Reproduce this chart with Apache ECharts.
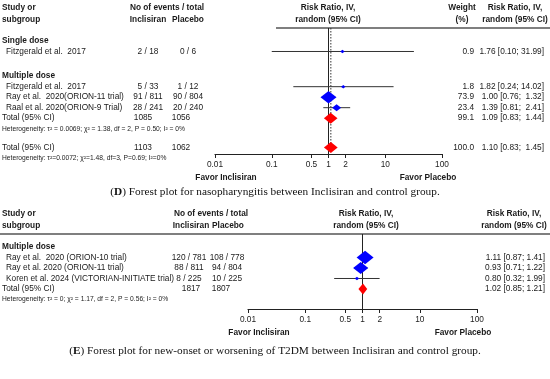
<!DOCTYPE html>
<html><head><meta charset="utf-8">
<script src="https://cdn.jsdelivr.net/npm/echarts@6/dist/echarts.min.js"></script>
<style>html,body{margin:0;padding:0;background:#fff}#c{width:550px;height:379px}</style>
</head><body><div id="c"></div>
<script>
// ---------- DATA: panel D (nasopharyngitis) ----------
const groupsD = ['Single dose', 'Multiple dose'];
const studiesD = ['Fitzgerald et al.  2017', 'Fitzgerald et al.  2017', 'Ray et al.  2020(ORION-11 trial)', 'Raal et al. 2020(ORION-9 Trial)'];
const evIncD = [2, 5, 91, 28];
const nIncD = [18, 33, 811, 241];
const evPlaD = [0, 1, 90, 20];
const nPlaD = [6, 12, 804, 240];
const weightD = [0.9, 1.8, 73.9, 23.4];
const rrD = [1.76, 1.82, 1.00, 1.39];
const loD = [0.10, 0.24, 0.76, 0.81];
const hiD = [31.99, 14.02, 1.32, 2.41];
const totIncD = [1085, 1103];
const totPlaD = [1056, 1062];
const totWeightD = [99.1, 100.0];
const totRrD = [1.09, 1.10];
const totLoD = [0.83, 0.83];
const totHiD = [1.44, 1.45];
const hetD = ['Heterogeneity: τ² = 0.0069; χ² = 1.38, df = 2, P = 0.50; I² = 0%',
              'Heterogeneity: τ²=0.0072; χ²=1.48, df=3, P=0.69; I²=0%'];
const captionD = ['D', 'Forest plot for nasopharyngitis between Inclisiran and control group.'];

// ---------- DATA: panel E (T2DM) ----------
const groupsE = ['Multiple dose'];
const studiesE = ['Ray et al.  2020 (ORION-10 trial)', 'Ray et al. 2020 (ORION-11 trial)', 'Koren et al. 2024 (VICTORIAN-INITIATE trial)'];
const evIncE = [120, 88, 8];
const nIncE = [781, 811, 225];
const evPlaE = [108, 94, 10];
const nPlaE = [778, 804, 225];
const weightE = [53.7, 42.6, 3.7]; // not printed
const rrE = [1.11, 0.93, 0.80];
const loE = [0.87, 0.71, 0.32];
const hiE = [1.41, 1.22, 1.99];
const totIncE = [1817];
const totPlaE = [1807];
const totRrE = [1.02];
const totLoE = [0.85];
const totHiE = [1.21];
const hetE = ['Heterogeneity: τ² = 0; χ² = 1.17, df = 2, P = 0.56; I² = 0%'];
const captionE = ['E', 'Forest plot for new-onset or worsening of T2DM between Inclisiran and control group.'];

// ---------- axis ticks ----------
const tickVals = [0.01, 0.1, 0.5, 1, 2, 10, 100];
const tickLabels = ['0.01', '0.1', '0.5', '1', '2', '10', '100'];
const favorLabels = ['Favor Inclisiran', 'Favor Placebo'];

// ---------- layout: [kind, index, row slot] ----------
const rowsD = [['g',0,0],['s',0,1],['g',1,3.35],['s',1,4.35],['s',2,5.35],['s',3,6.35],['t',0,7.35],['h',0,8.35],['t',1,10.15],['h',1,11.15]];
const rowsE = [['g',0,0],['s',0,1],['s',1,2],['s',2,3],['t',0,4],['h',0,5]];

const SANS = '"Liberation Sans", Arial, sans-serif';
const SERIF = '"Liberation Serif", "Times New Roman", serif';
const TXT = '#1a1a1a';
const BLUE = '#0000ff', RED = '#ff0000';
const lg = Math.log10;

const panels = [
  { rows: rowsD, groups: groupsD, studies: studiesD, evI: evIncD, nI: nIncD, evP: evPlaD, nP: nPlaD,
    w: weightD, rr: rrD, lo: loD, hi: hiD, tI: totIncD, tP: totPlaD, tW: totWeightD, trr: totRrD, tlo: totLoD, thi: totHiD,
    het: hetD, caption: captionD, dotted: totRrD[1], padCI: true,
    grid: { left: 215, width: 227, top: 28, height: 126 }, yMin: -1.238, yMax: 10.762, maxMark: 16,
    col: { incX: 148, plaX: 188, tIncX: 143, tPlaX: 181, headEvX: 167, headIncX: 148, headPlaX: 188, rrHeadX: 328, wX: 474, wHeadX: 462, ciRight: 544, ciHeadX: 515 },
    lineX1: 276, capY: 192 },
  { rows: rowsE, groups: groupsE, studies: studiesE, evI: evIncE, nI: nIncE, evP: evPlaE, nP: nPlaE,
    w: weightE, rr: rrE, lo: loE, hi: hiE, tI: totIncE, tP: totPlaE, tW: null, trr: totRrE, tlo: totLoE, thi: totHiE,
    het: hetE, caption: captionE, dotted: null, padCI: false,
    grid: { left: 248, width: 229, top: 234, height: 75 }, yMin: -1.238, yMax: 5.905, maxMark: 17,
    col: { incX: 189, plaX: 227, tIncX: 191, tPlaX: 221, headEvX: 211, headIncX: 191, headPlaX: 228, rrHeadX: 366, wX: null, wHeadX: null, ciRight: 545, ciHeadX: 514 },
    lineX1: 0, capY: 351 }
];

function mkX(gi) {
  return { type: 'value', gridIndex: gi, min: -2, max: 2, splitLine: { show: false },
    axisLine: { show: true, onZero: false, lineStyle: { color: '#222', width: 1.2 } },
    axisTick: { show: true, customValues: tickVals.map(lg), length: 4, lineStyle: { color: '#222', width: 1 } },
    axisLabel: { show: true, customValues: tickVals.map(lg), margin: 7, fontSize: 8.3, fontFamily: SANS, color: '#222',
      formatter: v => { let k = 0, b = 1e9; tickVals.forEach((t, i) => { const d = Math.abs(lg(t) - v); if (d < b) { b = d; k = i; } }); return tickLabels[k]; } } };
}
function mkY(gi, min, max) {
  return { type: 'value', gridIndex: gi, inverse: true, min, max, show: false, splitLine: { show: false } };
}

function vline(gi, x, dashed) {
  return { type: 'custom', xAxisIndex: gi, yAxisIndex: gi, data: [[x, 0]], encode: { x: 0, y: 1 }, z: 1,
    renderItem: (p, api) => { const c = api.coord([api.value(0), 0]); const cs = p.coordSys;
      return { type: 'line', shape: { x1: c[0], y1: cs.y, x2: c[0], y2: cs.y + (dashed ? cs.height - 4 : cs.height) },
        style: { stroke: dashed ? '#333' : '#222', lineWidth: 1, lineDash: dashed ? [1.5, 1.5] : null } }; } };
}

const series = [];
panels.forEach((P, gi) => {
  const ci = [], pts = [], tots = [];
  P.rows.forEach(r => {
    const row = r[2];
    if (r[0] === 's') { const i = r[1]; ci.push([lg(P.lo[i]), lg(P.hi[i]), row]); pts.push([lg(P.rr[i]), row, P.w[i]]); }
    if (r[0] === 't') { const i = r[1]; tots.push([lg(P.tlo[i]), lg(P.thi[i]), lg(P.trr[i]), row]); }
  });
  const wmax = Math.max(...P.w);
  series.push(vline(gi, 0, false));
  if (P.dotted) series.push(vline(gi, lg(P.dotted), true));
  series.push({ type: 'custom', xAxisIndex: gi, yAxisIndex: gi, data: ci, encode: { x: [0, 1], y: 2 }, z: 2,
    renderItem: (p, api) => { const a = api.coord([api.value(0), api.value(2)]); const b = api.coord([api.value(1), api.value(2)]);
      return { type: 'line', shape: { x1: a[0], y1: a[1], x2: b[0], y2: b[1] }, style: { stroke: '#333', lineWidth: 1 } }; } });
  series.push({ type: 'custom', xAxisIndex: gi, yAxisIndex: gi, data: pts, encode: { x: 0, y: 1 }, z: 3,
    renderItem: (p, api) => { const c = api.coord([api.value(0), api.value(1)]);
      const s = Math.max(4.5, P.maxMark * Math.sqrt(api.value(2) / wmax)); const h = s * 0.78;
      return { type: 'polygon', shape: { points: [[c[0], c[1] - h / 2], [c[0] + s / 2, c[1]], [c[0], c[1] + h / 2], [c[0] - s / 2, c[1]]] }, style: { fill: BLUE } }; } });
  series.push({ type: 'custom', xAxisIndex: gi, yAxisIndex: gi, data: tots, encode: { x: [0, 1, 2], y: 3 }, z: 3,
    renderItem: (p, api) => { const l = api.coord([api.value(0), api.value(3)]); const r = api.coord([api.value(1), api.value(3)]); const c = api.coord([api.value(2), api.value(3)]);
      const h = 11; return { type: 'polygon', shape: { points: [[l[0], c[1]], [c[0], c[1] - h / 2], [r[0], c[1]], [c[0], c[1] + h / 2]] }, style: { fill: RED } }; } });
});

const chart = echarts.init(document.getElementById('c'), null, { renderer: 'canvas' });
chart.setOption({
  animation: false, backgroundColor: '#fff',
  grid: panels.map(P => Object.assign({}, P.grid)),
  xAxis: panels.map((P, gi) => mkX(gi)),
  yAxis: panels.map((P, gi) => mkY(gi, P.yMin, P.yMax)),
  series
});

function T(x, y, text, o) {
  o = o || {};
  return { type: 'text', x, y, silent: true, z: 10,
    style: { text, fill: o.fill || TXT, fontSize: o.size || 8.3, fontFamily: o.family || SANS, fontWeight: o.bold ? 'bold' : 'normal',
      align: o.align || 'left', textAlign: o.align || 'left', verticalAlign: 'middle', textVerticalAlign: 'middle', rich: o.rich } };
}
function fmtCI(rr, lo, hi, pad) {
  const h = hi.toFixed(2);
  return rr.toFixed(2) + ' [' + lo.toFixed(2) + '; ' + (pad && hi < 10 ? ' ' : '') + h + ']';
}

const gfx = [];
panels.forEach((P, gi) => {
  const rowY = row => chart.convertToPixel({ gridIndex: gi }, [0, row])[1];
  const xPix = v => chart.convertToPixel({ gridIndex: gi }, [lg(v), 0])[0];
  const top = P.grid.top, bottom = P.grid.top + P.grid.height;
  const h1 = top - 20.5, h2 = top - 8.5;
  const C = P.col;
  gfx.push(T(2, h1, 'Study or', { bold: true }), T(2, h2, 'subgroup', { bold: true }));
  gfx.push(T(C.headEvX, h1, 'No of events / total', { bold: true, align: 'center' }));
  gfx.push(T(C.headIncX, h2, 'Inclisiran', { bold: true, align: 'center' }), T(C.headPlaX, h2, 'Placebo', { bold: true, align: 'center' }));
  gfx.push(T(C.rrHeadX, h1, 'Risk Ratio, IV,', { bold: true, align: 'center' }), T(C.rrHeadX, h2, 'random (95% CI)', { bold: true, align: 'center' }));
  if (C.wHeadX) gfx.push(T(C.wHeadX, h1, 'Weight', { bold: true, align: 'center' }), T(C.wHeadX, h2, '(%)', { bold: true, align: 'center' }));
  gfx.push(T(C.ciHeadX, h1, 'Risk Ratio, IV,', { bold: true, align: 'center' }), T(C.ciHeadX, h2, 'random (95% CI)', { bold: true, align: 'center' }));
  gfx.push({ type: 'line', silent: true, shape: { x1: P.lineX1, y1: top, x2: 550, y2: top }, style: { stroke: '#555', lineWidth: 1.5 } });
  P.rows.forEach(r => {
    const y = rowY(r[2]), i = r[1];
    if (r[0] === 'g') gfx.push(T(2, y, P.groups[i], { bold: true }));
    if (r[0] === 's') {
      gfx.push(T(6, y, P.studies[i]));
      gfx.push(T(C.incX, y, P.evI[i] + ' / ' + P.nI[i], { align: 'center' }), T(C.plaX, y, P.evP[i] + ' / ' + P.nP[i], { align: 'center' }));
      if (C.wX) gfx.push(T(C.wX, y, P.w[i].toFixed(1), { align: 'right' }));
      gfx.push(T(C.ciRight, y, fmtCI(P.rr[i], P.lo[i], P.hi[i], P.padCI), { align: 'right' }));
    }
    if (r[0] === 't') {
      gfx.push(T(2, y, 'Total (95% CI)'));
      gfx.push(T(C.tIncX, y, String(P.tI[i]), { align: 'center' }), T(C.tPlaX, y, String(P.tP[i]), { align: 'center' }));
      if (C.wX && P.tW) gfx.push(T(C.wX, y, P.tW[i].toFixed(1), { align: 'right' }));
      gfx.push(T(C.ciRight, y, fmtCI(P.trr[i], P.tlo[i], P.thi[i], P.padCI), { align: 'right' }));
    }
    if (r[0] === 'h') gfx.push(T(2, y, P.het[i], { size: 6.7, fill: '#222' }));
  });
  gfx.push(T(xPix(0.01) + 11, bottom + 24, favorLabels[0], { bold: true, align: 'center' }));
  gfx.push(T(xPix(100) - 14, bottom + 24, favorLabels[1], { bold: true, align: 'center' }));
  gfx.push(T(275, P.capY, '({b|' + P.caption[0] + '}) ' + P.caption[1], { family: SERIF, size: 11.3, align: 'center', fill: '#111',
    rich: { b: { fontWeight: 'bold', fontFamily: SERIF, fontSize: 11.3, fill: '#111' } } }));
});
chart.setOption({ graphic: { elements: gfx } });
</script></body></html>
